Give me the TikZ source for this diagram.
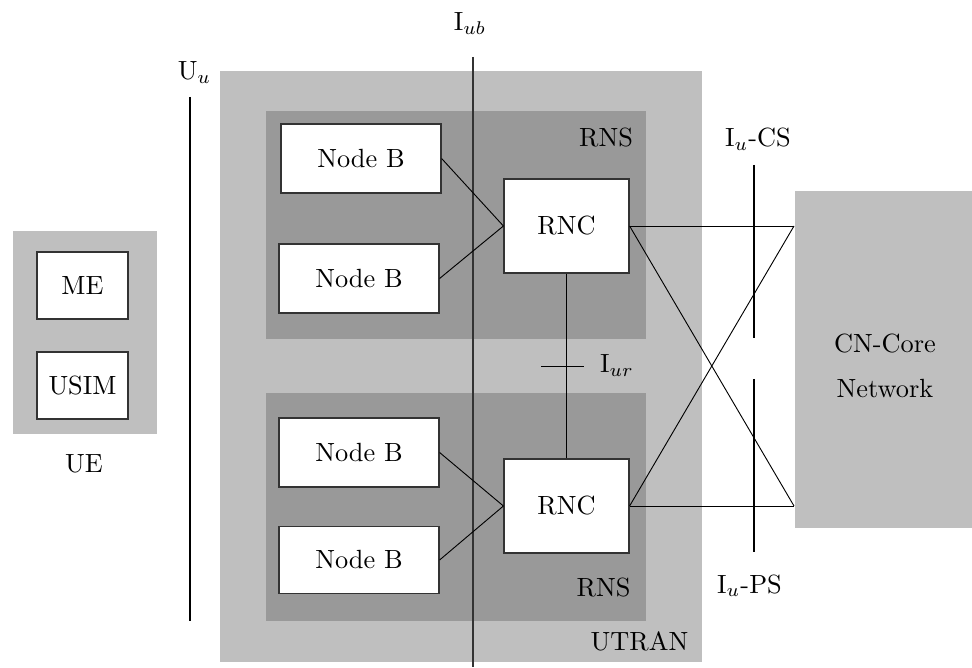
\documentclass[tikz,border=0pt]{standalone}
\newcommand{\pxu}{0.38pt}
\definecolor{lightarea}{gray}{0.75}
\definecolor{darkarea}{gray}{0.60}
\begin{document}
\begin{tikzpicture}[x=0.38pt,y=-0.38pt,
  area/.style={draw=none, inner sep=0, anchor=north west},
  unit/.style={draw=black!80, line width=0.45pt, fill=white, inner sep=0},
  lbl/.style={inner sep=0, anchor=base},
  link/.style={draw=black, line width=0.35pt},
  iface/.style={draw=black, line width=0.4pt}]
\useasboundingbox (0,0) rectangle (972,668);

% background areas
\node[area, fill=lightarea, minimum width=144*\pxu, minimum height=203*\pxu] (ue) at (12,230) {};
\node[area, fill=lightarea, minimum width=482*\pxu, minimum height=591*\pxu] (utran) at (219,70) {};
\node[area, fill=darkarea, minimum width=380*\pxu, minimum height=228*\pxu] (rns1) at (265,110) {};
\node[area, fill=darkarea, minimum width=380*\pxu, minimum height=228*\pxu] (rns2) at (265,392) {};
\node[area, fill=lightarea, minimum width=178*\pxu, minimum height=337*\pxu] (cn) at (794,190) {};
\node[lbl] (cnt1) at (885,353) {CN-Core};
\node[lbl] (cnt2) at (885,398) {Network};

% area labels
\node[lbl] (uelbl) at (84,472) {UE};
\node[lbl] (utranlbl) at (639.5,650) {UTRAN};
\node[lbl] (rnslbl1) at (606,147) {RNS};
\node[lbl] (rnslbl2) at (603.5,596) {RNS};

% interface lines and their labels
\coordinate (uutop) at (190,97);
\coordinate (uubot) at (190,621);
\draw[iface] (uutop) -- (uubot);
\node[lbl] (uulbl) at (194.5,80) {U$_u$};

\coordinate (iubtop) at (473,57);
\coordinate (iubbot) at (473,667);
\draw[draw=black!80, line width=0.65pt] (iubtop) -- (iubbot);
\node[lbl] (iublbl) at (470,31) {I$_{ub}$};

\coordinate (cstop) at (754,165);
\coordinate (csbot) at (754,338);
\draw[iface] (cstop) -- (csbot);
\node[lbl] (cslbl) at (758,147) {I$_u$-CS};

\coordinate (pstop) at (754,379);
\coordinate (psbot) at (754,552);
\draw[iface] (pstop) -- (psbot);
\node[lbl] (pslbl) at (749.5,593) {I$_u$-PS};

% UE components
\node[unit, minimum width=91*\pxu, minimum height=67*\pxu] (me) at (82.5,285.5) {ME};
\node[unit, minimum width=91*\pxu, minimum height=67*\pxu] (usim) at (82.5,385.5) {USIM};

% UTRAN components
\node[unit, minimum width=160*\pxu, minimum height=69*\pxu] (nb1) at (361,158.5) {Node B};
\node[unit, minimum width=160*\pxu, minimum height=69*\pxu] (nb2) at (359,278.5) {Node B};
\node[unit, minimum width=160*\pxu, minimum height=69*\pxu] (nb3) at (359,452.5) {Node B};
\node[unit, minimum width=160*\pxu, minimum height=67*\pxu] (nb4) at (359,560) {Node B};
\node[unit, minimum width=125*\pxu, minimum height=94*\pxu] (rnc1) at (566.5,226) {RNC};
\node[unit, minimum width=125*\pxu, minimum height=94*\pxu] (rnc2) at (566.5,506) {RNC};

% connections
\draw[link] (nb1.east) -- (rnc1.west);
\draw[link] (nb2.east) -- (rnc1.west);
\draw[link] (nb3.east) -- (rnc2.west);
\draw[link] (nb4.east) -- (rnc2.west);
\draw[link] (rnc1.south) -- (rnc2.north);

\coordinate (iurl) at (541,366);
\coordinate (iurr) at (584,366);
\draw[link] (iurl) -- (iurr);
\node[lbl] (iurlbl) at (617,373) {I$_{ur}$};

\draw[link] (rnc1.east) -- (cn.west |- rnc1.east);
\draw[link] (rnc1.east) -- (cn.west |- rnc2.east);
\draw[link] (rnc2.east) -- (cn.west |- rnc2.east);
\draw[link] (rnc2.east) -- (cn.west |- rnc1.east);
\end{tikzpicture}
\end{document}
